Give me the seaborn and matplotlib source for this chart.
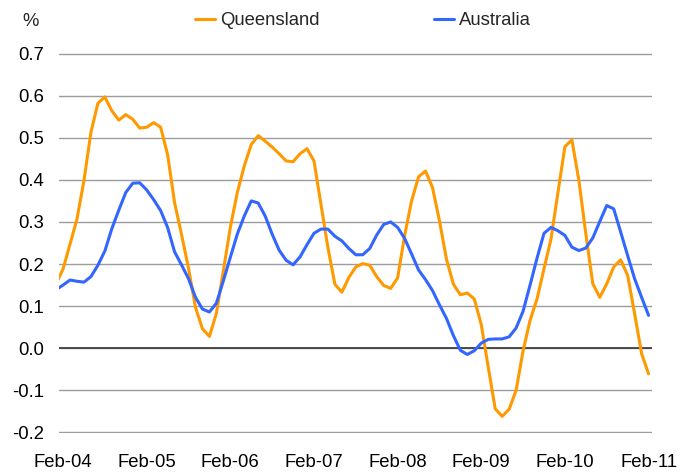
import matplotlib
matplotlib.use("Agg")
import matplotlib.pyplot as plt
import seaborn as sns
import pandas as pd

# monthly series, Jan-04 .. Feb-11 (Jan-04 sits just outside the left edge)
months = pd.date_range("2004-01-01", periods=86, freq="MS")

queensland = [
    0.153, 0.188, 0.247, 0.307, 0.398, 0.513, 0.582, 0.597, 0.564, 0.542,
    0.555, 0.544, 0.523, 0.525, 0.536, 0.525, 0.460, 0.346, 0.270, 0.190,
    0.097, 0.046, 0.028, 0.083, 0.184, 0.287, 0.370, 0.433, 0.484, 0.505,
    0.492, 0.478, 0.462, 0.445, 0.443, 0.462, 0.474, 0.445, 0.342, 0.239,
    0.152, 0.133, 0.168, 0.193, 0.201, 0.197, 0.170, 0.149, 0.142, 0.167,
    0.267, 0.350, 0.407, 0.421, 0.382, 0.303, 0.212, 0.152, 0.127, 0.131,
    0.117, 0.056, -0.045, -0.144, -0.162, -0.145, -0.100, -0.006, 0.066, 0.117,
    0.189, 0.259, 0.370, 0.479, 0.495, 0.399, 0.272, 0.153, 0.121, 0.153,
    0.193, 0.210, 0.173, 0.082, -0.013, -0.061,
]
australia = [
    0.139, 0.150, 0.162, 0.159, 0.157, 0.170, 0.197, 0.231, 0.284, 0.328,
    0.370, 0.392, 0.393, 0.376, 0.353, 0.327, 0.287, 0.229, 0.198, 0.165,
    0.121, 0.093, 0.086, 0.107, 0.160, 0.216, 0.271, 0.314, 0.350, 0.345,
    0.314, 0.271, 0.233, 0.209, 0.198, 0.217, 0.246, 0.273, 0.283, 0.283,
    0.266, 0.255, 0.237, 0.222, 0.222, 0.237, 0.269, 0.294, 0.300, 0.287,
    0.261, 0.224, 0.186, 0.163, 0.137, 0.103, 0.071, 0.030, -0.005, -0.015,
    -0.006, 0.012, 0.021, 0.022, 0.022, 0.027, 0.048, 0.088, 0.150, 0.214,
    0.273, 0.287, 0.279, 0.268, 0.240, 0.232, 0.238, 0.262, 0.301, 0.339,
    0.331, 0.276, 0.220, 0.165, 0.121, 0.078,
]
regions = ["Queensland", "Australia"]
colors = {"Queensland": "#FF9900", "Australia": "#3366FF"}
yticks = [-0.2, -0.1, 0.0, 0.1, 0.2, 0.3, 0.4, 0.5, 0.6, 0.7]

df = pd.DataFrame({
    "idx": list(range(len(months))) * 2,
    "value": queensland + australia,
    "region": ["Queensland"] * len(months) + ["Australia"] * len(months),
})

sns.set_style("white")
plt.rcParams["font.family"] = ["Liberation Sans", "DejaVu Sans"]

fig = plt.figure(figsize=(6.9, 4.73), dpi=100)
ax = fig.add_axes([0.0855, 0.0846, 0.8595, 0.8034])

sns.lineplot(data=df, x="idx", y="value", hue="region", hue_order=regions,
             palette=colors, linewidth=2.2, sort=False, ax=ax, zorder=3)

# tick every February
tick_pos = [i for i, m in enumerate(months) if m.month == 2]
tick_labels = [months[i].strftime("%b-%y") for i in tick_pos]
ax.set_xticks(tick_pos)
ax.set_xticklabels(tick_labels)
ax.set_xlim(0.42, 85.5)

ax.set_yticks(yticks)
ax.set_yticklabels([f"{v:.1f}" for v in yticks])
ax.set_ylim(-0.2015, 0.7015)

ax.yaxis.grid(True, color="#9c9c9c", linewidth=1.0)
ax.xaxis.grid(False)
ax.axhline(0, color="#404040", linewidth=1.3, zorder=2)
for s in ax.spines.values():
    s.set_visible(False)

ax.tick_params(axis="x", length=0, pad=15, labelsize=13.3, colors="black")
ax.tick_params(axis="y", length=0, pad=11, labelsize=13.3, colors="black")
ax.set_xlabel("")
ax.set_ylabel("")

fig.text(0.045, 0.955, "%", fontsize=13.3, ha="center", va="center")

handles, labels = ax.get_legend_handles_labels()
ax.legend(handles, labels, ncol=2, loc="center", frameon=False,
          bbox_to_anchor=(0.526, 0.956), bbox_transform=fig.transFigure,
          fontsize=13.3, handlelength=1.1, handletextpad=0.25,
          columnspacing=6.2)

fig.savefig("out.png", dpi=100)
